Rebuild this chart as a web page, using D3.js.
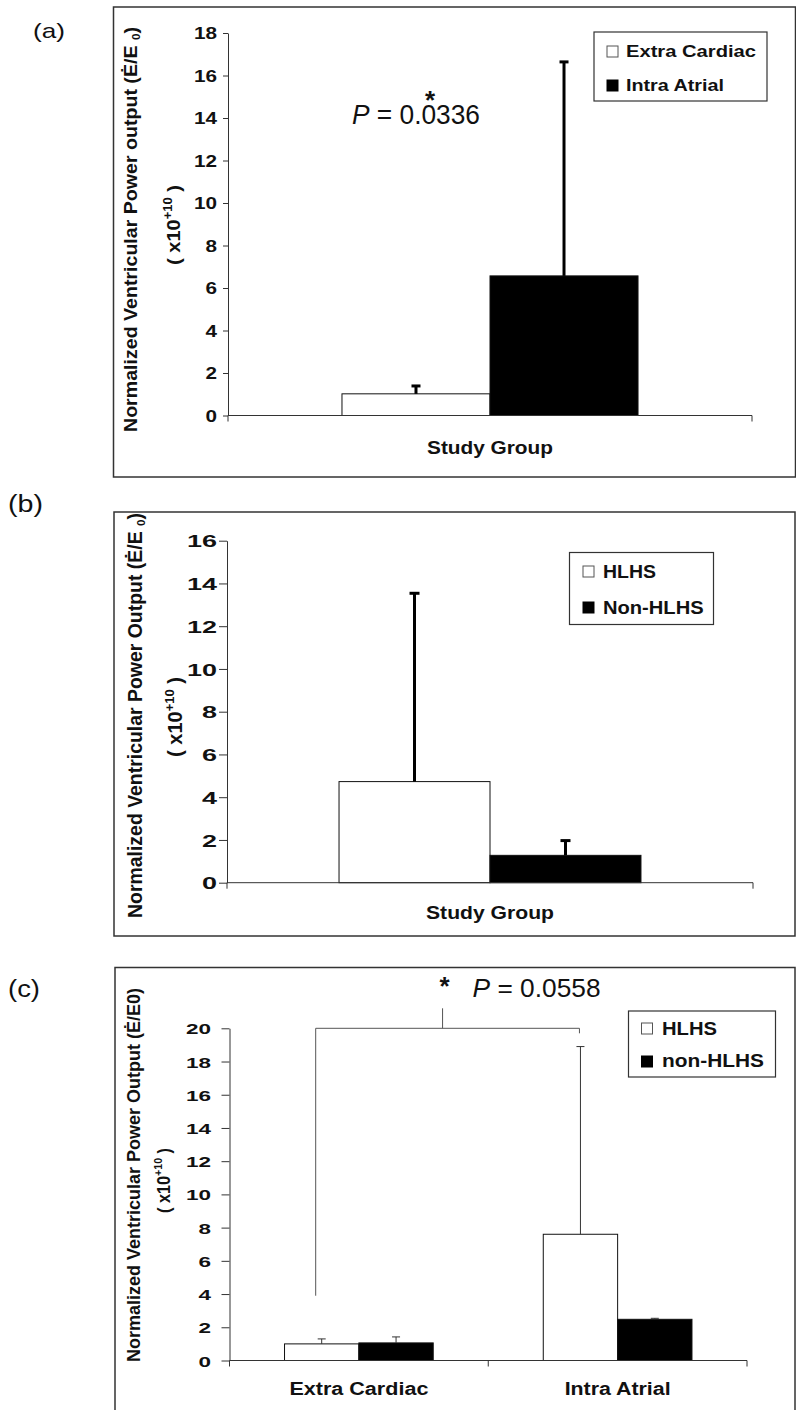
<!DOCTYPE html>
<html><head><meta charset="utf-8">
<script src="https://cdn.jsdelivr.net/npm/d3@7"></script>
<style>
body{margin:0;background:#fff}
svg{display:block}
text{font-family:"Liberation Sans",Arial,Helvetica,sans-serif}
</style>
</head><body>
<svg id="chart" width="796" height="1410"></svg>
<script>
// ---------- DATA ----------
// Panel (a)
const aCategories = ["Study Group"];
const aSeries = ["Extra Cardiac", "Intra Atrial"];
const aMeans = [1.02, 6.57];
const aUpper = [1.39, 16.64];   // mean + SD
const aTicks = [0, 2, 4, 6, 8, 10, 12, 14, 16, 18];

// Panel (b)
const bCategories = ["Study Group"];
const bSeries = ["HLHS", "Non-HLHS"];
const bMeans = [4.73, 1.28];
const bUpper = [13.54, 1.97];
const bTicks = [0, 2, 4, 6, 8, 10, 12, 14, 16];

// Panel (c)
const cCategories = ["Extra Cardiac", "Intra Atrial"];
const cSeries = ["HLHS", "non-HLHS"];
const cMeansHLHS = [1.0, 7.6];
const cMeansNonHLHS = [1.06, 2.48];
const cUpperHLHS = [1.3, 18.9];
const cUpperNonHLHS = [1.42, 2.54];
const cTicks = [0, 2, 4, 6, 8, 10, 12, 14, 16, 18, 20];
const cBracketFrom = 3.9;   // bracket left leg bottom value
const cBracketTo = 20;      // bracket height value

// ---------- DRAWING ----------
const svg = d3.select("#chart");
svg.append("rect").attr("width", 796).attr("height", 1410).attr("fill", "#fff");

const FILL = {0: "#ffffff", 1: "#000000"};

function panel(o) {
  const g = svg.append("g");
  g.append("rect")
    .attr("x", o.box[0]).attr("y", o.box[1]).attr("width", o.box[2]).attr("height", o.box[3])
    .attr("fill", "none").attr("stroke", "#333").attr("stroke-width", 1.5);

  const y = d3.scaleLinear().domain([0, d3.max(o.ticks)]).range(o.yRange);
  const x0 = d3.scaleBand().domain(o.categories).range(o.xRange).padding(0);
  const x1 = d3.scaleBand().domain(o.series).range([0, x0.bandwidth()]).paddingInner(0).paddingOuter(o.pad);

  // y axis
  const ya = g.append("g").attr("transform", `translate(${o.xRange[0]},0)`)
    .call(d3.axisLeft(y).tickValues(o.ticks).tickSize(o.tickLen).tickSizeOuter(0));
  ya.attr("font-family", null).attr("font-size", null);
  ya.select(".domain").attr("stroke", "#333");
  ya.selectAll(".tick line").attr("stroke", "#333");
  ya.selectAll(".tick text")
    .attr("x", o.labelRight - o.xRange[0])
    .attr("dy", "0.36em")
    .attr("font-size", o.tickFont).attr("font-weight", "bold").attr("fill", "#111")
    .attr("textLength", d => String(d).length * o.digitW)
    .attr("lengthAdjust", "spacingAndGlyphs");

  // bars
  const rows = [];
  o.categories.forEach((c, i) => {
    o.series.forEach((s, j) => {
      rows.push({cat: c, ser: s, j, mean: o.means[j][i], upper: o.upper[j][i]});
    });
  });
  g.selectAll("rect.bar").data(rows).enter().append("rect")
    .attr("class", "bar")
    .attr("x", d => x0(d.cat) + x1(d.ser))
    .attr("y", d => y(d.mean))
    .attr("width", x1.bandwidth())
    .attr("height", d => y(0) - y(d.mean))
    .attr("fill", d => FILL[d.j])
    .attr("stroke", "#111").attr("stroke-width", 1);

  // error bars (upper only)
  rows.forEach(d => {
    const cx = x0(d.cat) + x1(d.ser) + x1.bandwidth() / 2;
    g.append("line").attr("x1", cx).attr("x2", cx)
      .attr("y1", y(d.mean)).attr("y2", y(d.upper))
      .attr("stroke", o.errColor).attr("stroke-width", o.errW);
    g.append("line").attr("x1", cx - o.capW / 2).attr("x2", cx + o.capW / 2)
      .attr("y1", y(d.upper)).attr("y2", y(d.upper))
      .attr("stroke", o.errColor).attr("stroke-width", o.errW);
  });

  // x axis
  const y0 = y(0);
  g.append("line").attr("x1", o.xRange[0]).attr("x2", o.xRange[1])
    .attr("y1", y0).attr("y2", y0).attr("stroke", "#333").attr("stroke-width", 1);
  const bounds = o.categories.map(c => x0(c)).concat([x0(o.categories[o.categories.length - 1]) + x0.bandwidth()]);
  bounds.forEach(bx => {
    g.append("line").attr("x1", bx).attr("x2", bx).attr("y1", y0).attr("y2", y0 + 6)
      .attr("stroke", "#333").attr("stroke-width", 1);
  });
  o.categories.forEach(c => {
    g.append("text")
      .attr("x", x0(c) + x0.bandwidth() / 2).attr("y", o.xLabelY)
      .attr("text-anchor", "middle").attr("font-weight", "bold").attr("font-size", 18)
      .attr("fill", "#111")
      .attr("textLength", o.xLabelLen[c]).attr("lengthAdjust", "spacingAndGlyphs")
      .text(c);
  });

  // y axis title (two lines, rotated)
  const t1 = g.append("text")
    .attr("transform", `translate(${o.yl.b1},${o.yl.cy1}) rotate(-90)`)
    .attr("text-anchor", "middle").attr("font-weight", "bold").attr("font-size", o.yl.font)
    .attr("fill", "#111")
    .attr("textLength", o.yl.len1).attr("lengthAdjust", "spacingAndGlyphs");
  t1.append("tspan").text(o.yl.main);
  if (o.yl.sub) {
    t1.append("tspan").attr("font-size", o.yl.font * 0.6).attr("dy", 3).text(o.yl.sub);
    t1.append("tspan").attr("dy", -3).text(")");
  }
  const t2 = g.append("text")
    .attr("transform", `translate(${o.yl.b2},${o.yl.cy2}) rotate(-90)`)
    .attr("text-anchor", "middle").attr("font-weight", "bold").attr("font-size", o.yl.font)
    .attr("fill", "#111")
    .attr("textLength", o.yl.len2).attr("lengthAdjust", "spacingAndGlyphs");
  t2.append("tspan").text("( x10");
  t2.append("tspan").attr("font-size", o.yl.font * 0.65).attr("dy", -8).text("+10");
  t2.append("tspan").attr("dy", 8).text(" )");

  // legend
  const L = o.legend;
  g.append("rect").attr("x", L.box[0]).attr("y", L.box[1]).attr("width", L.box[2]).attr("height", L.box[3])
    .attr("fill", "#fff").attr("stroke", "#333").attr("stroke-width", 1.2);
  o.series.forEach((s, j) => {
    g.append("rect").attr("x", L.sqX).attr("y", L.sqY[j]).attr("width", 11).attr("height", 11)
      .attr("fill", FILL[j]).attr("stroke", j === 0 ? "#555" : "#000").attr("stroke-width", 1);
    g.append("text").attr("x", L.textX).attr("y", L.base[j])
      .attr("font-weight", "bold").attr("font-size", L.font).attr("fill", "#111")
      .attr("textLength", L.lens[j]).attr("lengthAdjust", "spacingAndGlyphs")
      .text(s);
  });

  // panel tag
  g.append("text").attr("x", o.tag.x).attr("y", o.tag.y)
    .attr("font-size", o.tag.font).attr("fill", "#111")
    .attr("textLength", o.tag.len).attr("lengthAdjust", "spacingAndGlyphs")
    .text(o.tag.text);

  return {g, x0, x1, y};
}

// ----- (a) -----
const A = panel({
  box: [113.5, 7, 682, 470],
  categories: aCategories, series: aSeries,
  means: [[aMeans[0]], [aMeans[1]]], upper: [[aUpper[0]], [aUpper[1]]],
  ticks: aTicks, yRange: [415.5, 33], xRange: [228, 752], pad: 0.77,
  tickLen: 5, labelRight: 217, digitW: 11.5, tickFont: 16,
  errW: 3, capW: 9, errColor: "#000",
  xLabelY: 453.5, xLabelLen: {"Study Group": 126},
  yl: {main: "Normalized Ventricular Power output (\u0116/E ", sub: "0", font: 19,
       b1: 137, cy1: 229.5, len1: 405, b2: 180, cy2: 225, len2: 80},
  legend: {box: [594, 32, 173, 69], sqX: 607, sqY: [46, 80], textX: 626, base: [57, 91],
           lens: [130, 98], font: 17},
  tag: {text: "(a)", x: 33, y: 38, font: 21, len: 32}
});
A.g.append("text").attr("x", 430).attr("y", 109).attr("text-anchor", "middle")
  .attr("font-size", 26).attr("font-weight", "bold").attr("fill", "#111").text("*");
const pa = A.g.append("text").attr("x", 352).attr("y", 124).attr("font-size", 27).attr("fill", "#111")
  .attr("textLength", 128).attr("lengthAdjust", "spacingAndGlyphs");
pa.append("tspan").attr("font-style", "italic").text("P");
pa.append("tspan").text(" = 0.0336");

// ----- (b) -----
panel({
  box: [114, 512, 681, 424],
  categories: bCategories, series: bSeries,
  means: [[bMeans[0]], [bMeans[1]]], upper: [[bUpper[0]], [bUpper[1]]],
  ticks: bTicks, yRange: [882.7, 540.7], xRange: [227, 753], pad: 0.742,
  tickLen: 8, labelRight: 217, digitW: 15, tickFont: 17,
  errW: 3, capW: 10, errColor: "#000",
  xLabelY: 919, xLabelLen: {"Study Group": 128},
  yl: {main: "Normalized Ventricular Power Output (\u0116/E ", sub: "0", font: 19.5,
       b1: 142, cy1: 715.5, len1: 405, b2: 182, cy2: 717, len2: 80},
  legend: {box: [569.5, 552.5, 144, 72], sqX: 583, sqY: [566, 602], textX: 603, base: [578, 614],
           lens: [53, 100.6], font: 17.5},
  tag: {text: "(b)", x: 8, y: 512, font: 23, len: 35}
});

// ----- (c) -----
const C = panel({
  box: [115, 967.5, 680, 460],
  categories: cCategories, series: cSeries,
  means: [cMeansHLHS, cMeansNonHLHS], upper: [cUpperHLHS, cUpperNonHLHS],
  ticks: cTicks, yRange: [1360.5, 1028.3], xRange: [229.5, 747], pad: 0.74,
  tickLen: 8, labelRight: 211, digitW: 12.5, tickFont: 15.5,
  errW: 1, capW: 8, errColor: "#333",
  xLabelY: 1395, xLabelLen: {"Extra Cardiac": 139, "Intra Atrial": 106},
  yl: {main: "Normalized Ventricular Power Output (\u0116/E0)", sub: null, font: 18,
       b1: 140, cy1: 1175, len1: 374, b2: 170, cy2: 1180.5, len2: 65},
  legend: {box: [628.5, 1011, 147, 66], sqX: 641.5, sqY: [1023, 1056], textX: 662, base: [1034.5, 1067],
           lens: [55, 102], font: 17.5},
  tag: {text: "(c)", x: 8, y: 997, font: 23, len: 32}
});
// significance bracket in (c)
{
  const {g, x0, x1, y} = C;
  const left = x0(cCategories[0]) + x1(cSeries[0]) + x1.bandwidth() / 2 - 6;
  const right = x0(cCategories[1]) + x1(cSeries[0]) + x1.bandwidth() / 2 - 1;
  const top = y(cBracketTo);
  const mid = (left + right) / 2 - 5;
  g.append("path")
    .attr("d", `M${left},${y(cBracketFrom)}V${top}H${right}V${top + 5}`)
    .attr("fill", "none").attr("stroke", "#555").attr("stroke-width", 1);
  g.append("line").attr("x1", mid).attr("x2", mid).attr("y1", top).attr("y2", top - 20)
    .attr("stroke", "#555").attr("stroke-width", 1);
  g.append("text").attr("x", mid + 2).attr("y", top - 33).attr("text-anchor", "middle")
    .attr("font-size", 26).attr("font-weight", "bold").attr("fill", "#111").text("*");
  const pc = g.append("text").attr("x", mid + 30).attr("y", top - 31.5).attr("font-size", 25).attr("fill", "#111")
    .attr("textLength", 128).attr("lengthAdjust", "spacingAndGlyphs");
  pc.append("tspan").attr("font-style", "italic").text("P");
  pc.append("tspan").text(" = 0.0558");
}
</script>
</body></html>
